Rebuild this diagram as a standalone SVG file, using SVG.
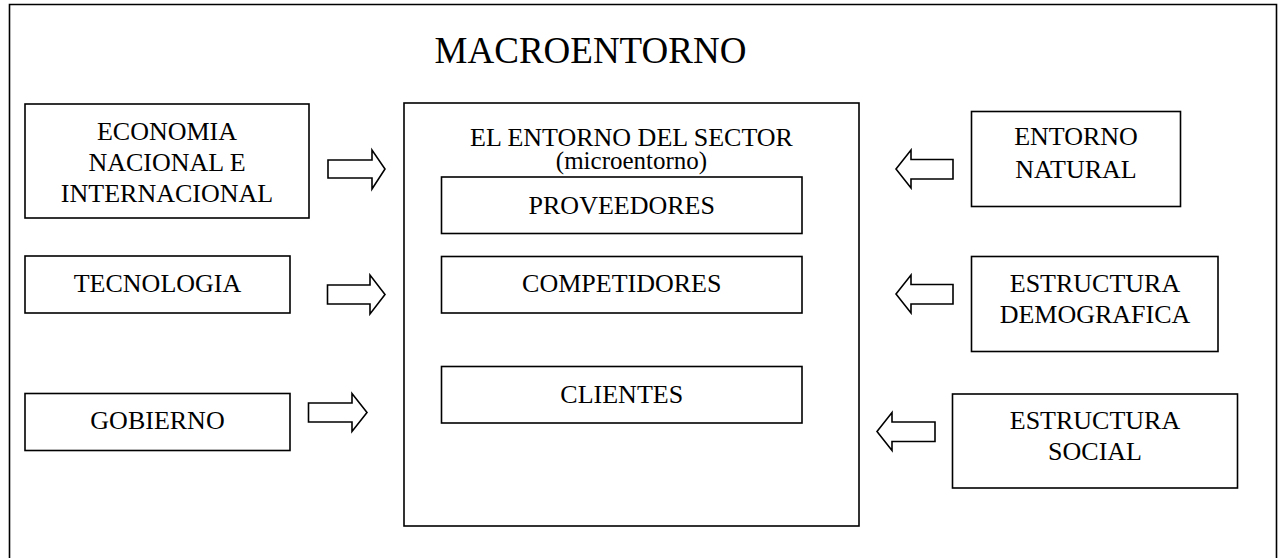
<svg xmlns="http://www.w3.org/2000/svg" width="1283" height="558" viewBox="0 0 1283 558">
<style>
.box{fill:#fff;stroke:#000;stroke-width:1.6}
.frame{fill:none;stroke:#000;stroke-width:1.6}
.arr{fill:#fff;stroke:#000;stroke-width:1.6;stroke-linejoin:miter}
text{font-family:"Liberation Serif","Times New Roman",serif;font-size:26px;fill:#000;text-anchor:middle}
.title{font-size:37px}
.sub{font-size:25px}
</style>
<rect width="1283" height="558" fill="#fff"/>
<g id="macroentorno">
<path class="frame" d="M9.5,570 V4.5 H1276.5 V570"/>
<text class="title" x="590.5" y="63">MACROENTORNO</text>
</g>
<g id="economia">
<rect class="box" x="25" y="104" width="284" height="114"/>
<text x="167" y="140">ECONOMIA</text>
<text x="167" y="171">NACIONAL E</text>
<text x="167" y="202">INTERNACIONAL</text>
</g>
<g id="tecnologia">
<rect class="box" x="25" y="256" width="265" height="57"/>
<text x="157.5" y="292">TECNOLOGIA</text>
</g>
<g id="gobierno">
<rect class="box" x="25" y="393.5" width="265" height="57"/>
<text x="157.5" y="428.5">GOBIERNO</text>
</g>
<g id="sector">
<rect class="box" x="404" y="103" width="455" height="423"/>
<text x="631.5" y="146">EL ENTORNO DEL SECTOR</text>
<text class="sub" x="631.5" y="169">(microentorno)</text>
</g>
<g id="proveedores">
<rect class="box" x="441.5" y="177" width="360.5" height="56.5"/>
<text x="621.75" y="213.5">PROVEEDORES</text>
</g>
<g id="competidores">
<rect class="box" x="441.5" y="256.5" width="360.5" height="56.5"/>
<text x="621.75" y="292">COMPETIDORES</text>
</g>
<g id="clientes">
<rect class="box" x="441.5" y="366.5" width="360.5" height="56.5"/>
<text x="621.75" y="403">CLIENTES</text>
</g>
<g id="entorno-natural">
<rect class="box" x="971.5" y="111.5" width="209" height="95"/>
<text x="1076" y="145">ENTORNO</text>
<text x="1076" y="178">NATURAL</text>
</g>
<g id="estructura-demografica">
<rect class="box" x="971.5" y="256.5" width="246.5" height="95"/>
<text x="1095" y="292">ESTRUCTURA</text>
<text x="1095" y="323">DEMOGRAFICA</text>
</g>
<g id="estructura-social">
<rect class="box" x="952.5" y="394" width="285" height="94"/>
<text x="1095" y="428.5">ESTRUCTURA</text>
<text x="1095" y="459.5">SOCIAL</text>
</g>
<g id="connectors">
<polygon class="arr" points="328,160 372,160 372,150 385,169 372,189 372,178 328,178"/>
<polygon class="arr" points="327.5,285 370,285 370,275 385,294.5 370,314 370,304 327.5,304"/>
<polygon class="arr" points="308.5,403 352,403 352,393.5 367,412.5 352,431.5 352,422 308.5,422"/>
<polygon class="arr" points="953,159.5 911,159.5 911,150 896,169 911,188 911,179 953,179"/>
<polygon class="arr" points="953,284.5 911,284.5 911,275 896,294 911,313 911,304 953,304"/>
<polygon class="arr" points="935,422 892,422 892,412.5 877,431.5 892,450.5 892,441.5 935,441.5"/>
</g>
</svg>
